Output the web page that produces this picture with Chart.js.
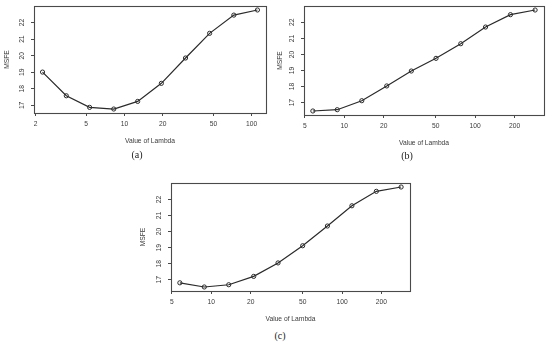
<!DOCTYPE html>
<html>
<head>
<meta charset="utf-8">
<script src="https://cdn.jsdelivr.net/npm/chart.js@4.4.1/dist/chart.umd.min.js"></script>
<style>
  body { margin: 0; background: #fff; width: 550px; height: 347px; position: relative; overflow: hidden; }
  canvas { position: absolute; }
  .cap { position: absolute; font-family: "Liberation Serif", serif; font-size: 10px; color: #222; transform: translateX(-50%); line-height: 12px; }
</style>
</head>
<body>
<canvas id="chartA" width="275" height="150" style="left:0;top:0"></canvas>
<canvas id="chartB" width="275" height="152" style="left:275px;top:0"></canvas>
<canvas id="chartC" width="282" height="158" style="left:138px;top:170px"></canvas>
<div class="cap" style="left:137px;top:149px">(a)</div>
<div class="cap" style="left:407px;top:150px">(b)</div>
<div class="cap" style="left:280px;top:330px">(c)</div>

<script>
// values
const lambdaA = [2.27, 3.49, 5.32, 8.24, 12.7, 19.5, 30.2, 46.7, 72.4, 111];
const msfeA = [19.01, 17.58, 16.88, 16.78, 17.24, 18.33, 19.86, 21.35, 22.45, 22.76];

const lambdaB = [5.75, 8.83, 13.6, 21.1, 32.5, 50.2, 77.6, 120, 186, 287];
const msfeB = [16.48, 16.56, 17.12, 18.04, 18.97, 19.76, 20.67, 21.71, 22.48, 22.77];

const lambdaC = [5.75, 8.84, 13.6, 21.1, 32.4, 50, 77.3, 119, 183, 283];
const msfeC = [16.81, 16.55, 16.69, 17.21, 18.05, 19.12, 20.35, 21.61, 22.51, 22.78];

const xTicksA = [2, 5, 10, 20, 50, 100];
const xTicksBC = [5, 10, 20, 50, 100, 200];
const yTicks = [17, 18, 19, 20, 21, 22];

const textColor = '#3a3a3a';
const axisColor = '#4a4a4a';
const fontFam = '"Liberation Sans", Arial, sans-serif';

// R style box + rotated y tick labels
const rBox = {
    id: 'rBox',
    afterDraw(chart) {
        const ctx = chart.ctx;
        const a = chart.chartArea;
        ctx.save();
        ctx.strokeStyle = axisColor;
        ctx.lineWidth = 1.1;
        ctx.strokeRect(Math.round(a.left) + 0.5, Math.round(a.top) + 0.5,
            Math.round(a.right - a.left), Math.round(a.bottom - a.top));
        ctx.fillStyle = textColor;
        ctx.font = '6.7px ' + fontFam;
        ctx.textAlign = 'center';
        ctx.textBaseline = 'middle';
        yTicks.forEach(v => {
            const y = chart.scales.y.getPixelForValue(v);
            ctx.save();
            ctx.translate(a.left - 12, y);
            ctx.rotate(-Math.PI / 2);
            ctx.fillText(String(v), 0, 0);
            ctx.restore();
        });
        ctx.restore();
    }
};

function makeChart(id, lambda, msfe, xTicks, xMin, xMax, yMin, yMax, padTop, padRight, yWidth, titleOff) {
    return new Chart(document.getElementById(id), {
        type: 'line',
        data: {
            datasets: [{
                data: lambda.map((l, i) => ({x: l, y: msfe[i]})),
                borderColor: '#2a2a2a',
                borderWidth: 1.2,
                pointRadius: 2.1,
                pointBorderWidth: 1,
                pointBorderColor: '#2a2a2a',
                pointBackgroundColor: 'rgba(0,0,0,0)',
                tension: 0
            }]
        },
        options: {
            responsive: false,
            animation: false,
            layout: {padding: {top: padTop, right: padRight, left: 0, bottom: 0}},
            plugins: {legend: {display: false}, tooltip: {enabled: false}},
            scales: {
                x: {
                    type: 'logarithmic',
                    min: xMin,
                    max: xMax,
                    afterBuildTicks: s => { s.ticks = xTicks.map(v => ({value: v})); },
                    afterFit: s => { s.height = 37; },
                    ticks: {
                        autoSkip: false, maxRotation: 0, padding: 4,
                        color: textColor, font: {size: 6.7, family: fontFam},
                        callback: v => String(v)
                    },
                    grid: {drawOnChartArea: false, tickLength: 3, color: axisColor},
                    border: {display: false},
                    title: {
                        display: true, text: 'Value of Lambda', color: textColor,
                        font: {size: 6.7, family: fontFam}, padding: {top: 0, bottom: 4.5}
                    }
                },
                y: {
                    min: yMin,
                    max: yMax,
                    afterBuildTicks: s => { s.ticks = yTicks.map(v => ({value: v})); },
                    afterFit: s => { s.width = yWidth; },
                    ticks: {display: false},
                    grid: {drawOnChartArea: false, tickLength: 3, color: axisColor},
                    border: {display: false},
                    title: {
                        display: true, text: 'MSFE', color: textColor,
                        font: {size: 6.7, family: fontFam}, padding: {top: titleOff, bottom: 0}
                    }
                }
            }
        },
        plugins: [rBox]
    });
}

makeChart('chartA', lambdaA, msfeA, xTicksA, 1.945, 129.6, 16.54, 23.0, 6, 9, 34, 2.8);
makeChart('chartB', lambdaB, msfeB, xTicksBC, 4.92, 335.6, 16.23, 23.02, 6, 6, 29, 1.5);
makeChart('chartC', lambdaC, msfeC, xTicksBC, 4.92, 331, 16.30, 23.03, 13, 10, 33, 1.5);
</script>
</body>
</html>
